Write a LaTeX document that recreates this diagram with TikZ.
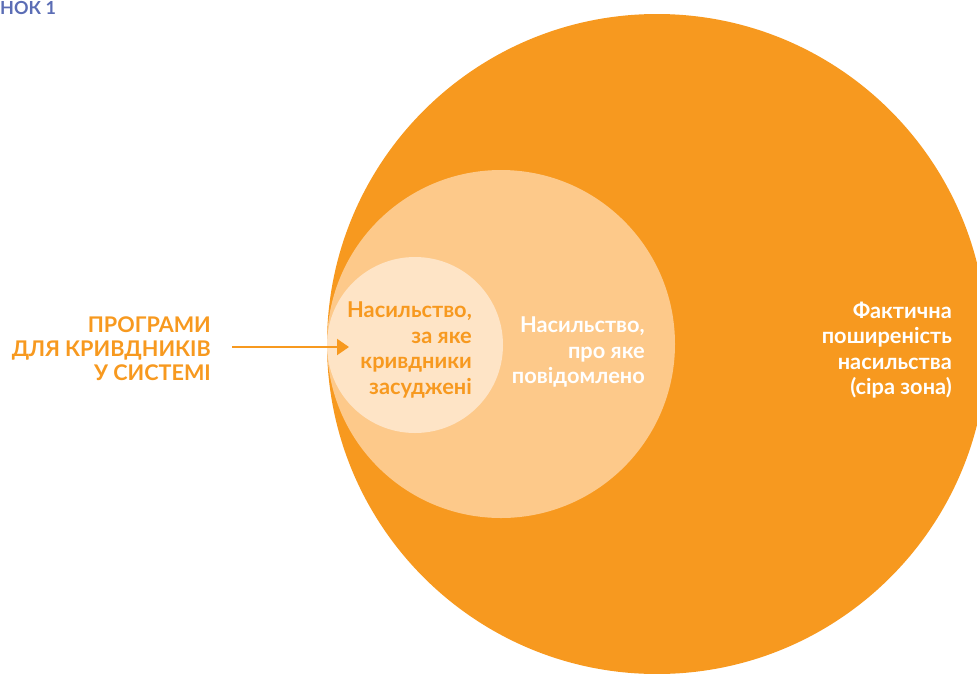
\documentclass[tikz,border=0pt]{standalone}
\usepackage{fontspec}
\setmainfont{Lato}
\usetikzlibrary{arrows.meta}
\definecolor{orangeA}{HTML}{F7991F}
\definecolor{orangeB}{HTML}{FDC98A}
\definecolor{orangeC}{HTML}{FEE4C6}
\definecolor{titleblue}{HTML}{5B6DB5}
\tikzset{
  lbl/.style={align=right, anchor=east, inner sep=0pt, font=\fontsize{21.8}{25.5}\selectfont\bfseries},
  boldlbl/.style={lbl, font=\fontsize{21.6}{24}\selectfont\bfseries},
}
\begin{document}
\begin{tikzpicture}[x=1pt,y=-1pt]
\useasboundingbox (0,0) rectangle (977,673);
\begin{scope}
\clip (0,0) rectangle (977,673);
\fill[orangeA] (657,344) circle (330);
\fill[orangeB] (501,344) circle (174);
\fill[orangeC] (415,345) circle (88);
\end{scope}
\node[anchor=west, inner sep=0pt, text=titleblue, font=\fontsize{18}{20}\selectfont\bfseries] (title) at (0,7.5) {НОК 1};
\node[boldlbl, text=orangeA] (prog) at (211,349) {ПРОГРАМИ\\ДЛЯ КРИВДНИКІВ\\У СИСТЕМІ};
\node[lbl, text=orangeA] (conv) at (472,350) {Насильство,\\за яке\\кривдники\\засуджені};
\node[lbl, text=white] (rep) at (645,352) {Насильство,\\про яке\\повідомлено};
\node[lbl, text=white] (act) at (952,350) {Фактична\\поширеність\\насильства\\(сіра зона)};
\coordinate (as) at (232,347);
\coordinate (ae) at (349,347);
\draw[orangeA, line width=2pt, -{Triangle[width=16pt,length=12pt]}] (as) -- (ae);
\end{tikzpicture}
\end{document}
